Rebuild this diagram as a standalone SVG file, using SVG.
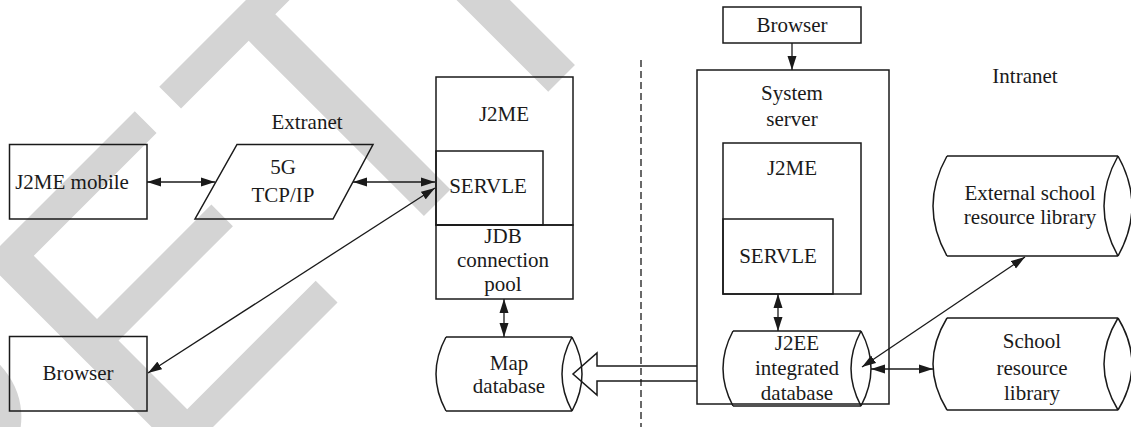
<svg xmlns="http://www.w3.org/2000/svg" width="1131" height="427" viewBox="0 0 1131 427">
<style>
.wm{font-family:"Liberation Sans",Arial,sans-serif;font-size:405px;fill:#d4d4d4}
.n{fill:none;stroke:#1a1a1a;stroke-width:1.5}
.t{font-family:"Liberation Serif","Times New Roman",serif;font-size:21px;fill:#1a1a1a;text-anchor:middle}
.c{fill:none;stroke:#1a1a1a;stroke-width:1.3}
.d{fill:none;stroke:#1a1a1a;stroke-width:1.3;stroke-dasharray:7 4}
</style>
<defs>
<marker id="ah" markerUnits="userSpaceOnUse" markerWidth="15" markerHeight="10" refX="14" refY="5" orient="auto-start-reverse" viewBox="0 0 15 10">
<path d="M0,0.5 L14,5 L0,9.5 z" fill="#1a1a1a"/>
</marker>
</defs>
<rect width="1131" height="427" fill="#ffffff"/>
<g id="watermark">
<text class="wm" transform="translate(-48,688) rotate(-45)">RETRACTED</text>
</g>
<g id="divider">
<line class="d" x1="641" y1="60" x2="641" y2="427"/>
</g>
<g id="label-extranet"><text class="t" x="307" y="129">Extranet</text></g>
<g id="label-intranet"><text class="t" x="1025" y="83">Intranet</text></g>
<g id="j2me-mobile">
<rect class="n" x="9.5" y="144.5" width="137.5" height="74.5"/>
<text class="t" x="72" y="189">J2ME mobile</text>
</g>
<g id="tcpip">
<path class="n" d="M237,144.5 L373,144.5 L333,219 L195,219 Z"/>
<text class="t" x="283" y="174">5G</text>
<text class="t" x="283" y="202">TCP/IP</text>
</g>
<g id="browser-left">
<rect class="n" x="9.5" y="336.5" width="137.5" height="74.5"/>
<text class="t" x="78" y="380">Browser</text>
</g>
<g id="j2me-server">
<rect class="n" x="436" y="77" width="137" height="148"/>
<text class="t" x="504" y="121">J2ME</text>
</g>
<g id="servle-left">
<rect class="n" x="436" y="151" width="107" height="74"/>
<text class="t" x="488" y="193">SERVLE</text>
</g>
<g id="jdb-pool">
<rect class="n" x="436" y="225" width="137" height="74"/>
<text class="t" x="503" y="243">JDB</text>
<text class="t" x="503" y="267">connection</text>
<text class="t" x="503" y="291">pool</text>
</g>
<g id="map-database">
<path class="n" d="M446,337 L572,337 M446,411 L572,411 M446,337 Q426,374 446,411 M572,337 Q552,374 572,411 M572,337 Q592,374 572,411"/>
<text class="t" x="509" y="370">Map</text>
<text class="t" x="509" y="393">database</text>
</g>
<g id="browser-top">
<rect class="n" x="723" y="7" width="138" height="36"/>
<text class="t" x="792" y="32">Browser</text>
</g>
<g id="system-server">
<rect class="n" x="697" y="70" width="192" height="334"/>
<text class="t" x="792" y="100">System</text>
<text class="t" x="792" y="126">server</text>
</g>
<g id="j2me-right">
<rect class="n" x="723" y="143" width="138" height="151"/>
<text class="t" x="792" y="175">J2ME</text>
</g>
<g id="servle-right">
<rect class="n" x="723" y="219" width="110" height="75"/>
<text class="t" x="778" y="263">SERVLE</text>
</g>
<g id="j2ee-database">
<path class="n" d="M733,331 L861,331 M733,406 L861,406 M733,331 Q713,368.5 733,406 M861,331 Q841,368.5 861,406 M861,331 Q881,368.5 861,406"/>
<text class="t" x="797" y="350">J2EE</text>
<text class="t" x="797" y="375">integrated</text>
<text class="t" x="797" y="400">database</text>
</g>
<g id="external-library">
<path class="n" d="M947,156 L1118,156 M947,256 L1118,256 M947,156 Q919,206 947,256 M1118,156 Q1090,206 1118,256 M1118,156 Q1146,206 1118,256"/>
<text class="t" x="1030" y="200">External school</text>
<text class="t" x="1030" y="224">resource library</text>
</g>
<g id="school-library">
<path class="n" d="M947,318 L1118,318 M947,410 L1118,410 M947,318 Q919,364 947,410 M1118,318 Q1090,364 1118,410 M1118,318 Q1146,364 1118,410"/>
<text class="t" x="1032" y="348">School</text>
<text class="t" x="1032" y="375">resource</text>
<text class="t" x="1032" y="400">library</text>
</g>
<g id="connectors">
<line class="c" x1="147" y1="182" x2="215" y2="182" marker-start="url(#ah)" marker-end="url(#ah)"/>
<line class="c" x1="353" y1="182" x2="435" y2="182" marker-start="url(#ah)" marker-end="url(#ah)"/>
<line class="c" x1="148" y1="373" x2="435" y2="188" marker-start="url(#ah)" marker-end="url(#ah)"/>
<line class="c" x1="504" y1="299" x2="504" y2="337" marker-start="url(#ah)" marker-end="url(#ah)"/>
<line class="c" x1="792" y1="43" x2="792" y2="70" marker-end="url(#ah)"/>
<line class="c" x1="778" y1="294" x2="778" y2="331" marker-start="url(#ah)" marker-end="url(#ah)"/>
<line class="c" x1="871" y1="369" x2="933" y2="369" marker-start="url(#ah)" marker-end="url(#ah)"/>
<line class="c" x1="862" y1="367" x2="1025" y2="257" marker-start="url(#ah)" marker-end="url(#ah)"/>
<path class="n" d="M697,366 L597,366 L597,353 L573,374 L597,395 L597,381 L697,381"/>
</g>
</svg>
